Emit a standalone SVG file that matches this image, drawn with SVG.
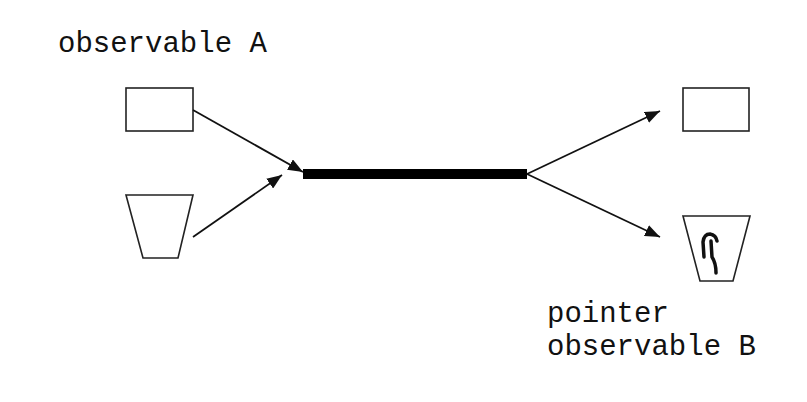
<svg xmlns="http://www.w3.org/2000/svg" width="807" height="402" viewBox="0 0 807 402">
  <style>
    .label { font-family: "Liberation Mono", "Courier New", monospace; font-size: 29px; fill: #111; }
    .box { fill: #fff; stroke: #222; stroke-width: 1.6; }
    .conn { fill: none; stroke: #111; stroke-width: 1.8; }
    .ink { fill: none; stroke: #111; stroke-width: 3.5; stroke-linecap: round; stroke-linejoin: round; }
  </style>
  <defs>
    <marker id="arrow" viewBox="0 0 15 12" refX="15" refY="6" markerWidth="15" markerHeight="12" markerUnits="userSpaceOnUse" orient="auto">
      <path d="M0,0 L15,6 L0,12 z" fill="#111"/>
    </marker>
  </defs>
  <rect width="807" height="402" fill="#fff"/>

  <g id="label-a">
    <text class="label" x="58" y="52">observable A</text>
  </g>

  <g id="system-rect">
    <rect class="box" x="126" y="88" width="67" height="43"/>
  </g>
  <g id="system-cup">
    <polygon class="box" points="126,195 193,195 178,258 143,258"/>
  </g>

  <g id="interaction">
    <rect x="303" y="169" width="224" height="10" fill="#000"/>
  </g>

  <g id="out-rect">
    <rect class="box" x="683" y="88" width="66" height="43"/>
  </g>
  <g id="out-cup">
    <polygon class="box" points="683,216 750,216 733,281 700,281"/>
    <path class="ink" d="M704,257 L703,242 Q704,234 710,234 Q716,235 717,241"/>
    <path class="ink" d="M711,241 L712,257 Q716,263 716,273"/>
  </g>

  <g id="label-b">
    <text class="label" x="547" y="322">pointer</text>
    <text class="label" x="547" y="355">observable B</text>
  </g>

  <g id="connectors">
    <line class="conn" x1="193" y1="110" x2="303" y2="172" marker-end="url(#arrow)"/>
    <line class="conn" x1="193" y1="237" x2="282" y2="175" marker-end="url(#arrow)"/>
    <line class="conn" x1="527" y1="174" x2="660" y2="111" marker-end="url(#arrow)"/>
    <line class="conn" x1="527" y1="174" x2="660" y2="237" marker-end="url(#arrow)"/>
  </g>
</svg>
